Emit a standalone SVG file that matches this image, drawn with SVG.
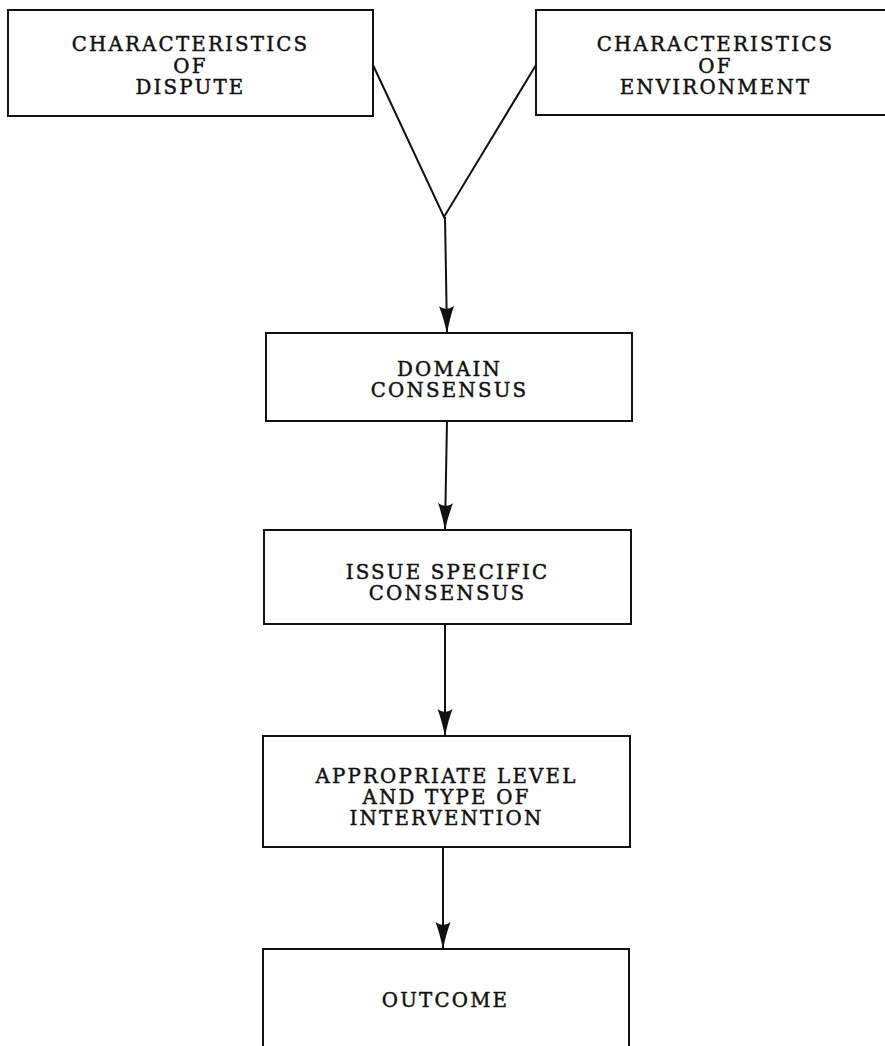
<svg xmlns="http://www.w3.org/2000/svg" width="885" height="1046" viewBox="0 0 885 1046">
<style>
.box{fill:#fff;stroke:#111;stroke-width:2}
.lbl{font-family:"DejaVu Serif","Liberation Serif",serif;font-size:19.8px;letter-spacing:2.2px;fill:#111;stroke:#111;stroke-width:0.45;text-anchor:middle}
.con{stroke:#111;stroke-width:2;fill:none}
</style>
<defs>
<marker id="ah" markerUnits="userSpaceOnUse" markerWidth="28" markerHeight="16" viewBox="0 0 28 16" refX="27" refY="8" orient="auto">
<path d="M0,0.5 Q12,5 27.5,8 Q12,11 0,15.5 Q6,8 0,0.5 Z" fill="#111"/>
</marker>
</defs>
<rect width="885" height="1046" fill="#fff"/>
<g id="connectors">
<polyline class="con" points="373,65 444,217 536,65"/>
<line class="con" x1="445" y1="217" x2="447" y2="333" marker-end="url(#ah)"/>
<line class="con" x1="447" y1="421" x2="445" y2="530" marker-end="url(#ah)"/>
<line class="con" x1="445" y1="624" x2="445" y2="736" marker-end="url(#ah)"/>
<line class="con" x1="443" y1="847" x2="443" y2="949" marker-end="url(#ah)"/>
</g>
<g id="dispute">
<rect class="box" x="8" y="10" width="365" height="106"/>
<text class="lbl" x="190.5" y="51">CHARACTERISTICS</text>
<text class="lbl" x="190.5" y="73">OF</text>
<text class="lbl" x="190.5" y="94">DISPUTE</text>
</g>
<g id="environment">
<rect class="box" x="536" y="10" width="370" height="105"/>
<text class="lbl" x="715.5" y="51">CHARACTERISTICS</text>
<text class="lbl" x="715.5" y="73">OF</text>
<text class="lbl" x="715.5" y="94">ENVIRONMENT</text>
</g>
<g id="domain">
<rect class="box" x="266" y="333" width="366" height="88"/>
<text class="lbl" x="449.5" y="376">DOMAIN</text>
<text class="lbl" x="449.5" y="397">CONSENSUS</text>
</g>
<g id="issue">
<rect class="box" x="264" y="530" width="367" height="94"/>
<text class="lbl" x="447.5" y="579">ISSUE SPECIFIC</text>
<text class="lbl" x="447.5" y="600">CONSENSUS</text>
</g>
<g id="intervention">
<rect class="box" x="263" y="736" width="367" height="111"/>
<text class="lbl" x="446.5" y="783">APPROPRIATE LEVEL</text>
<text class="lbl" x="446.5" y="804">AND TYPE OF</text>
<text class="lbl" x="446.5" y="825">INTERVENTION</text>
</g>
<g id="outcome">
<rect class="box" x="263" y="949" width="366" height="120"/>
<text class="lbl" x="445.5" y="1007">OUTCOME</text>
</g>
</svg>
